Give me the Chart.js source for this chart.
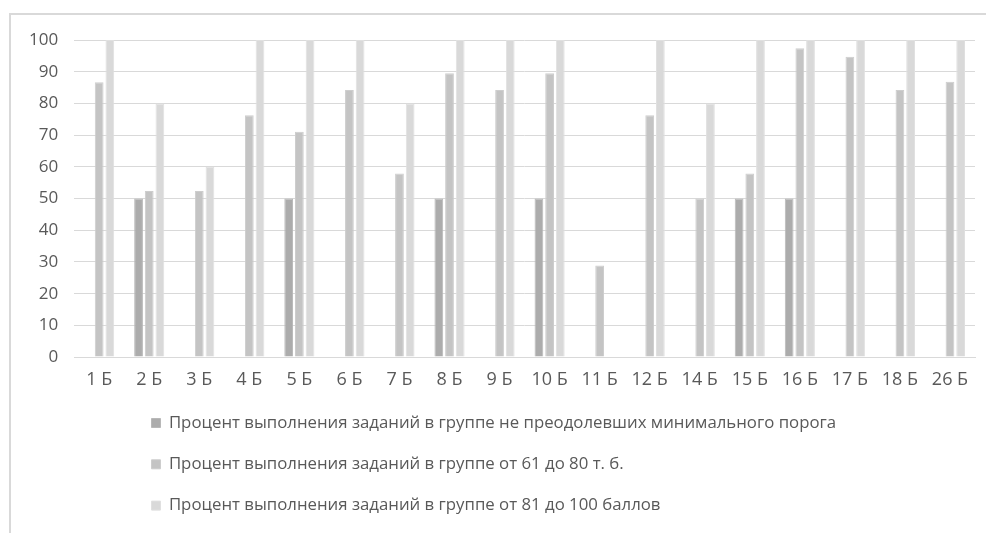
<!DOCTYPE html>
<html>
<head>
<meta charset="utf-8">
<script src="https://cdn.jsdelivr.net/npm/chart.js@4.4.1/dist/chart.umd.min.js"></script>
<style>
  html, body { margin: 0; padding: 0; background: #ffffff; overflow: hidden; }
  #frame {
    position: absolute; left: 9px; top: 13px; width: 1100px; height: 700px;
    border-top: 2px solid #d9d9d9; border-left: 2px solid #d9d9d9;
  }
  #wrap { position: absolute; left: 0; top: 0; width: 986px; height: 533px; }
</style>
</head>
<body>
<div id="frame"></div>
<div id="wrap"><canvas id="chart" width="986" height="533"></canvas></div>
<script>
// Task numbers (columns)
const categories = ['1 Б', '2 Б', '3 Б', '4 Б', '5 Б', '6 Б', '7 Б', '8 Б', '9 Б', '10 Б',
                    '11 Б', '12 Б', '14 Б', '15 Б', '16 Б', '17 Б', '18 Б', '26 Б'];

// Group that did not pass the minimum threshold
const belowMinimum = [null, 50, null, null, 50, null, null, 50, null, 50,
                      null, null, null, 50, 50, null, null, null];

// Group 61–80 test points
const group61to80 = [86.7, 52.4, 52.4, 76.3, 71.1, 84.2, 57.9, 89.5, 84.2, 89.5,
                     28.9, 76.3, 50, 57.9, 97.4, 94.7, 84.2, 86.8];

// Group 81–100 points
const group81to100 = [100, 80, 60, 100, 100, 100, 80, 100, 100, 100,
                      null, 100, 80, 100, 100, 100, 100, 100];

const seriesNames = [
  'Процент выполнения заданий в группе не преодолевших минимального порога',
  'Процент выполнения заданий в группе от 61 до 80 т. б.',
  'Процент выполнения заданий в группе от 81 до 100 баллов'
];

const yTicks = [0, 10, 20, 30, 40, 50, 60, 70, 80, 90, 100];

const FONT = '"Open Sans", "Liberation Sans", sans-serif';
const TEXT = '#595959';
const LEGEND_LEFT = 127;

// Legend is a left-aligned column starting under the plot, one entry per row
const legendColumn = {
  id: 'legendColumn',
  afterInit(chart) {
    const lg = chart.legend;
    if (!lg) return;
    const fitRows = lg._fitRows;
    lg._fitRows = function (...args) {
      const saved = this.maxWidth;
      this.maxWidth = saved - LEGEND_LEFT;
      const h = fitRows.apply(this, args);
      this.maxWidth = saved;
      return h;
    };
  },
  afterLayout(chart) {
    if (chart.legend) chart.legend.left = LEGEND_LEFT;
  }
};

new Chart(document.getElementById('chart'), {
  type: 'bar',
  data: {
    labels: categories,
    datasets: [
      { label: seriesNames[0], data: belowMinimum, backgroundColor: '#acacac', borderColor: '#b8b8b8', borderWidth: 1 },
      { label: seriesNames[1], data: group61to80, backgroundColor: '#c4c4c4', borderColor: '#cdcdcd', borderWidth: 1 },
      { label: seriesNames[2], data: group81to100, backgroundColor: '#d9d9d9', borderColor: '#e0e0e0', borderWidth: 1 }
    ]
  },
  options: {
    responsive: false,
    animation: false,
    devicePixelRatio: 1,
    categoryPercentage: 0.64,
    barPercentage: 0.82,
    layout: { padding: { left: 13, right: 11, top: 40, bottom: 9 } },
    plugins: {
      tooltip: { enabled: false },
      legend: {
        position: 'bottom',
        align: 'start',
        labels: {
          boxWidth: 9,
          boxHeight: 9,
          padding: 24.5,
          color: TEXT,
          font: { family: FONT, size: 16.8 }
        }
      }
    },
    scales: {
      x: {
        grid: { display: false, drawTicks: false },
        border: { color: '#d9d9d9', width: 1 },
        ticks: { color: TEXT, font: { family: FONT, size: 18 }, padding: 12, maxRotation: 0 },
        afterFit(axis) { axis.height = 33; }
      },
      y: {
        min: 0,
        max: 100,
        afterBuildTicks(axis) { axis.ticks = yTicks.map(v => ({ value: v })); },
        grid: { color: '#d9d9d9', lineWidth: 1, drawTicks: false },
        border: { display: false },
        ticks: { color: TEXT, font: { family: FONT, size: 17 }, padding: 16 }
      }
    }
  },
  plugins: [legendColumn]
});
</script>
</body>
</html>
